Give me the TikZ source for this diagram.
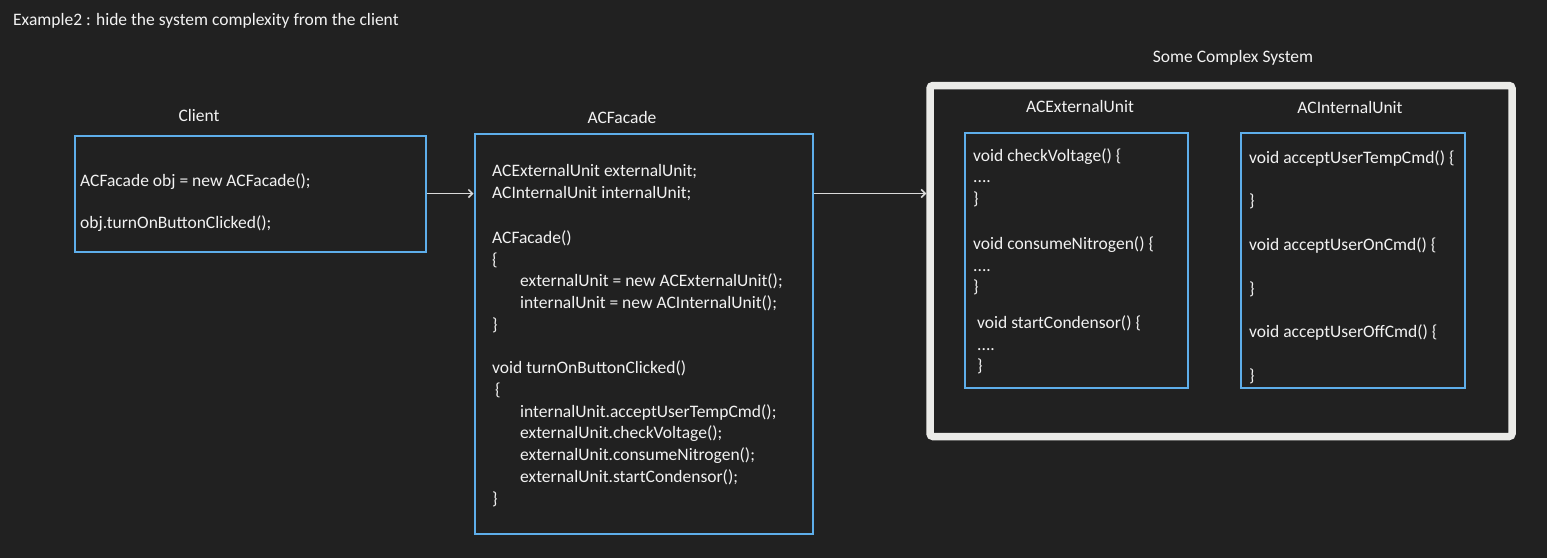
\documentclass[tikz,border=0pt]{standalone}
\usepackage{fontspec}
\setmainfont{Carlito}
\usetikzlibrary{arrows.meta}

\definecolor{canvas}{HTML}{212121}
\definecolor{boxblue}{HTML}{5EAEEA}
\definecolor{framegray}{HTML}{EBEBE8}
\definecolor{ink}{HTML}{F2F2F2}
\definecolor{wire}{HTML}{DADADA}

\newcommand{\codesize}{\fontsize{17.5}{21.7}\selectfont}

\begin{document}
\begin{tikzpicture}[
  x=1pt, y=-1pt,
  every node/.style={text=ink, font=\codesize},
  box/.style={draw=boxblue, line width=2pt, anchor=north west, inner sep=0pt},
  code/.style={anchor=north west, align=left, inner sep=0pt},
  heading/.style={anchor=base, inner sep=0pt},
  link/.style={draw=wire, line width=1.5pt, -{Straight Barb[length=4pt,width=8pt]}}
]
\fill [canvas] (0,0) rectangle (1547,558);

\node [heading, anchor=base west] (title) at (13,25.5) {Example2 : hide the system complexity from the client};

\node [box, minimum width=351, minimum height=116] (client) at (73.5,134.5) {};
\node [box, minimum width=338, minimum height=400] (facade) at (473.5,132.5) {};
\node [draw=framegray, line width=7.5pt, rounded corners=3pt, inner sep=0pt,
  minimum width=582, minimum height=351] (system) at (1221,261) {};
\node [box, minimum width=223, minimum height=255] (external) at (963.5,131.5) {};
\node [box, minimum width=224, minimum height=255] (internal) at (1239.5,131.5) {};

\node [heading] (client label) at (199,121.5) {Client};
\node [heading] (facade label) at (622,123) {ACFacade};
\node [heading] (system label) at (1233,62.5) {Some Complex System};
\node [heading] (external label) at (1080,112.5) {ACExternalUnit};
\node [heading] (internal label) at (1350,113) {ACInternalUnit};

\node [code] (client code) at (80,171.5) {\strut ACFacade obj = new ACFacade();\\[20pt]
obj.turnOnButtonClicked();};

\node [code] (facade code) at (492,161.5) {\strut ACExternalUnit externalUnit;\\
ACInternalUnit internalUnit;\\[23pt]
ACFacade()\\
\{\\
\hspace*{28pt}externalUnit = new ACExternalUnit();\\
\hspace*{28pt}internalUnit = new ACInternalUnit();\\
\}\\[22pt]
void turnOnButtonClicked()\\
\hspace*{3pt}\{\\
\hspace*{28pt}internalUnit.acceptUserTempCmd();\\
\hspace*{28pt}externalUnit.checkVoltage();\\
\hspace*{28pt}externalUnit.consumeNitrogen();\\
\hspace*{28pt}externalUnit.startCondensor();\\
\}};

\node [code] (external code) at (973,145.8) {\strut void checkVoltage() \{\\
....\\
\}\\[23pt]
void consumeNitrogen() \{\\
....\\
\}\\[14pt]
\hspace*{4pt}void startCondensor() \{\\
\hspace*{4pt}....\\
\hspace*{4pt}\}};

\node [code] (internal code) at (1249,147.8) {\strut void acceptUserTempCmd() \{\\[21.9pt]
\}\\[21.9pt]
void acceptUserOnCmd() \{\\[21.9pt]
\}\\[21.9pt]
void acceptUserOffCmd() \{\\[21.9pt]
\}};

\draw [link] (client.east) -- (client.east -| facade.west);
\draw [link] (client.east -| facade.east) -- (client.east -| system.west);
\end{tikzpicture}
\end{document}
